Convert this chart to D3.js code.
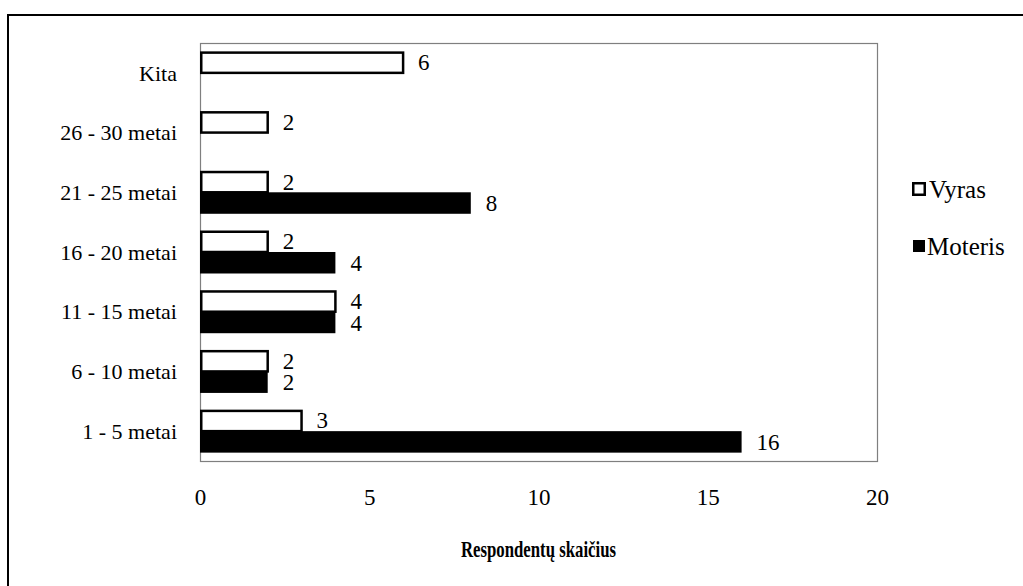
<!DOCTYPE html>
<html>
<head>
<meta charset="utf-8">
<script src="https://cdn.jsdelivr.net/npm/d3@7"></script>
<style>
  html, body { margin: 0; padding: 0; background: #fff; }
  svg { display: block; }
  text { font-family: "Liberation Serif", "Times New Roman", serif; fill: #000; }
</style>
</head>
<body>
<div id="chart"></div>
<script>
// ── Data ──────────────────────────────────────────────────────────────────
var categories = ['Kita', '26 - 30 metai', '21 - 25 metai', '16 - 20 metai',
                  '11 - 15 metai', '6 - 10 metai', '1 - 5 metai'];
var vyras   = [6, 2, 2, 2, 4, 2, 3];
var moteris = [null, null, 8, 4, 4, 2, 16];
var seriesNames = ['Vyras', 'Moteris'];
var xTicks = [0, 5, 10, 15, 20];
var axisTitle = 'Respondentų skaičius';

// ── Layout ────────────────────────────────────────────────────────────────
var W = 1023, H = 586;
var plot = { left: 200, top: 43, right: 877, bottom: 461 };
var serif = '"Liberation Serif", "Times New Roman", serif';

var svg = d3.select('#chart').append('svg')
  .attr('width', W)
  .attr('height', H);

// outer frame (runs off the right and bottom edge like the source crop)
svg.append('rect')
  .attr('x', 8).attr('y', 15)
  .attr('width', W + 20).attr('height', H + 20)
  .attr('fill', 'none')
  .attr('stroke', '#000')
  .attr('stroke-width', 2);

var x = d3.scaleLinear().domain([0, 20]).range([plot.left, plot.right]);
var y = d3.scaleBand().domain(categories)
  .range([plot.top, plot.bottom])
  .paddingInner(0.28).paddingOuter(0.14);
var ySub = d3.scaleBand().domain(seriesNames).range([0, y.bandwidth()]);

// plot area border
svg.append('rect')
  .attr('x', plot.left + 0.5).attr('y', plot.top + 0.5)
  .attr('width', plot.right - plot.left).attr('height', plot.bottom - plot.top)
  .attr('fill', 'none')
  .attr('stroke', '#7f7f7f')
  .attr('stroke-width', 1.2);

// ── Bars ──────────────────────────────────────────────────────────────────
var rows = categories.map(function(c, i) {
  return { cat: c, Vyras: vyras[i], Moteris: moteris[i] };
});

var series = seriesNames.map(function(name) {
  return rows.filter(function(r) { return r[name] != null; })
    .map(function(r) { return { cat: r.cat, name: name, value: r[name] }; });
});

// Moteris first so the white Vyras outline sits on top
[series[1], series[0]].forEach(function(s) {
  svg.append('g').selectAll('rect')
    .data(s)
    .join('rect')
    .attr('x', function(d) { return x(0) + (d.name === 'Vyras' ? 1.25 : 0); })
    .attr('y', function(d) { return y(d.cat) + ySub(d.name) + (d.name === 'Vyras' ? 1.25 : 0); })
    .attr('width', function(d) { return x(d.value) - x(0) - (d.name === 'Vyras' ? 1.25 : 0); })
    .attr('height', function(d) { return ySub.bandwidth() - (d.name === 'Vyras' ? 1.25 : 0); })
    .attr('fill', function(d) { return d.name === 'Vyras' ? '#fff' : '#000'; })
    .attr('stroke', function(d) { return d.name === 'Vyras' ? '#000' : 'none'; })
    .attr('stroke-width', 2.5);

  svg.append('g').selectAll('text')
    .data(s)
    .join('text')
    .attr('x', function(d) { return x(d.value) + 15; })
    .attr('y', function(d) { return y(d.cat) + ySub(d.name) + ySub.bandwidth() / 2; })
    .attr('dy', '0.35em')
    .attr('font-size', 23)
    .text(function(d) { return d.value; });
});

// ── Axes ──────────────────────────────────────────────────────────────────
var xAxis = svg.append('g')
  .attr('transform', 'translate(0,' + plot.bottom + ')')
  .call(d3.axisBottom(x).tickValues(xTicks).tickSize(0))
  .attr('font-family', serif)
  .attr('font-size', 23);
xAxis.select('.domain').remove();
xAxis.selectAll('text')
  .attr('y', 36).attr('dy', '0.35em')
  .style('font-family', serif);

var yAxis = svg.append('g')
  .attr('transform', 'translate(' + plot.left + ',0)')
  .call(d3.axisLeft(y).tickSize(0))
  .attr('font-family', serif)
  .attr('font-size', 22);
yAxis.select('.domain').remove();
yAxis.selectAll('text')
  .attr('x', -23).attr('dy', '0.35em')
  .style('font-family', serif);

// bold, narrow axis title
svg.append('text')
  .attr('x', (plot.left + plot.right) / 2).attr('y', 557)
  .attr('text-anchor', 'middle')
  .attr('font-size', 24)
  .attr('font-weight', 'bold')
  .attr('textLength', 155)
  .attr('lengthAdjust', 'spacingAndGlyphs')
  .text(axisTitle);

// ── Legend ────────────────────────────────────────────────────────────────
var legend = svg.append('g')
  .selectAll('g')
  .data(seriesNames)
  .join('g')
  .attr('transform', function(d, i) { return 'translate(912,' + (189 + i * 57) + ')'; });

legend.append('rect')
  .attr('x', function(d) { return d === 'Vyras' ? 1.25 : 1; })
  .attr('y', function(d) { return d === 'Vyras' ? -5.75 : -6; })
  .attr('width', function(d) { return d === 'Vyras' ? 11.5 : 12; })
  .attr('height', function(d) { return d === 'Vyras' ? 11.5 : 12; })
  .attr('fill', function(d) { return d === 'Vyras' ? '#fff' : '#000'; })
  .attr('stroke', function(d) { return d === 'Vyras' ? '#000' : 'none'; })
  .attr('stroke-width', 2.5);

legend.append('text')
  .attr('x', function(d) { return d === 'Vyras' ? 17 : 15; })
  .attr('y', 0)
  .attr('dy', '0.35em')
  .attr('font-size', 25)
  .text(function(d) { return d; });
</script>
</body>
</html>
